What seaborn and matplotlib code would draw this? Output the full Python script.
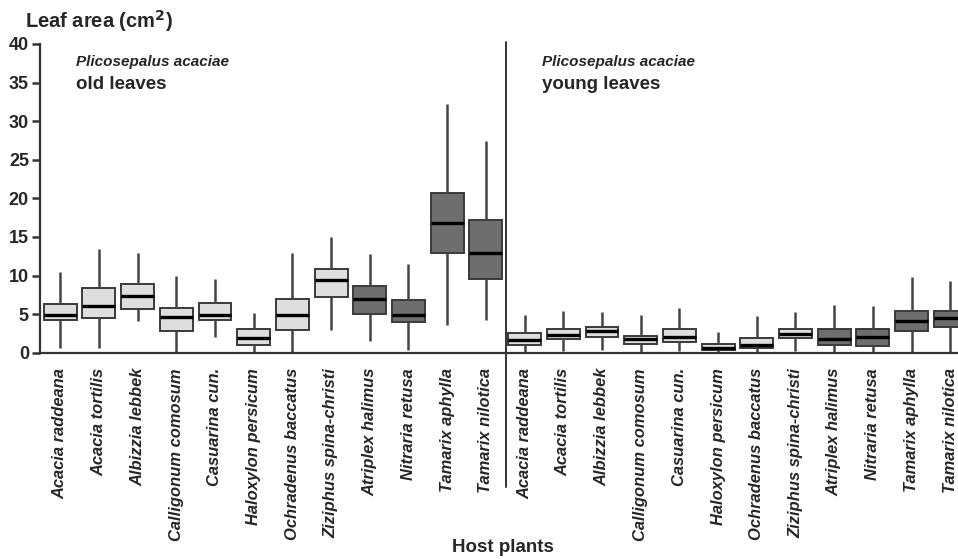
import numpy as np
import pandas as pd
import matplotlib
matplotlib.use("Agg")
import matplotlib.pyplot as plt
import seaborn as sns

# Host plant species (same order in both panels)
species = [
    "Acacia raddeana", "Acacia tortilis", "Albizzia lebbek", "Calligonum comosum",
    "Casuarina cun.", "Haloxylon persicum", "Ochradenus baccatus",
    "Ziziphus spina-christi", "Atriplex halimus", "Nitraria retusa",
    "Tamarix aphylla", "Tamarix nilotica",
]
# host group: light boxes for the first eight hosts, dark for the rest
shade = ["light"] * 8 + ["dark"] * 4

# Old leaves: five-number summaries (cm2)
old_low = [0.65, 0.65, 4.15, 0.15, 2.05, 0.0, 0.15, 2.95, 1.5, 0.35, 3.6, 4.25]
old_q1 = [4.25, 4.45, 5.65, 2.85, 4.3, 1.0, 2.95, 7.2, 5.0, 4.0, 12.95, 9.6]
old_med = [4.95, 6.05, 7.35, 4.6, 4.85, 1.9, 4.9, 9.4, 6.9, 4.9, 16.75, 12.95]
old_q3 = [6.35, 8.4, 8.85, 5.85, 6.4, 3.05, 6.9, 10.9, 8.6, 6.8, 20.7, 17.15]
old_high = [10.4, 13.4, 12.95, 10.0, 9.5, 5.2, 12.9, 15.0, 12.8, 11.5, 32.2, 27.4]

# Young leaves: five-number summaries (cm2)
young_low = [0.1, 0.2, 0.3, 0.1, 0.2, 0.0, 0.0, 0.2, 0.0, 0.0, 0.0, 0.0]
young_q1 = [1.0, 1.75, 2.05, 1.15, 1.4, 0.35, 0.65, 1.9, 1.05, 0.9, 2.85, 3.3]
young_med = [1.65, 2.3, 2.8, 1.75, 2.0, 0.65, 1.0, 2.45, 1.8, 2.0, 4.15, 4.5]
young_q3 = [2.5, 3.05, 3.35, 2.2, 3.05, 1.1, 1.95, 3.05, 3.05, 3.1, 5.45, 5.45]
young_high = [4.9, 5.45, 5.3, 4.95, 5.85, 2.7, 4.8, 5.3, 6.15, 6.1, 9.75, 9.3]

yticks = [0, 5, 10, 15, 20, 25, 30, 35, 40]

light_fill = "#dedede"
dark_fill = "#6e6e6e"
edge = "#3a3a3a"

# Long-form table: each box is given by its five summary values,
# so quartiles and min/max whiskers reproduce them exactly.
rows = []
keys = []
palette = {}
panels = [
    ("old", old_low, old_q1, old_med, old_q3, old_high),
    ("young", young_low, young_q1, young_med, young_q3, young_high),
]
for panel, lo, q1, med, q3, hi in panels:
    for i, sp in enumerate(species):
        key = f"{panel}|{sp}"
        keys.append(key)
        palette[key] = light_fill if shade[i] == "light" else dark_fill
        for v in (lo[i], q1[i], med[i], q3[i], hi[i]):
            rows.append({"key": key, "area": v})
df = pd.DataFrame(rows)

sns.set_style("white")
plt.rcParams["font.family"] = ["Liberation Sans", "DejaVu Sans"]

fig = plt.figure(figsize=(9.58, 5.59), dpi=100)
ax = fig.add_axes([0.0418, 0.369, 0.9582, 0.5524])

sns.boxplot(
    data=df, x="key", y="area", hue="key", order=keys, hue_order=keys,
    palette=palette, dodge=False, legend=False, whis=(0, 100), width=0.85,
    linecolor=edge, linewidth=1.4, showcaps=False,
    whiskerprops={"color": "#444444", "linewidth": 1.8},
    medianprops={"color": "black", "linewidth": 2.4},
    boxprops={"edgecolor": edge, "linewidth": 1.4},
    ax=ax,
)

ax.set_xlim(-0.52, 23.2)
ax.set_ylim(0, 40)
ax.set_yticks(yticks)
ax.set_yticklabels([str(t) for t in yticks], fontsize=13, fontweight="bold")
ax.set_xticks(range(len(keys)))
ax.set_xticklabels(species * 2, rotation=90, fontsize=11.9,
                   fontweight="bold", fontstyle="italic", va="top")
ax.tick_params(axis="x", length=5, width=1.6, pad=6, color="#333333")
ax.tick_params(axis="y", length=6, width=1.8, pad=2, color="#333333",
               left=True, direction="out")
for t in ax.xaxis.get_major_ticks()[:12]:
    t.tick1line.set_visible(False)
ax.set_xlabel("")
ax.set_ylabel("")

for s in ("top", "right"):
    ax.spines[s].set_visible(False)
for s in ("left", "bottom"):
    ax.spines[s].set_color("#333333")
    ax.spines[s].set_linewidth(1.6)

# divider between old and young leaves
ax.plot([11.53, 11.53], [-17.4, 40.3], color="#333333", lw=1.4, clip_on=False)

# axis titles and panel captions
fig.text(0.026, 0.951, "Leaf area (cm$^{\\mathbf{2}}$)", fontsize=14.5,
         fontweight="bold", ha="left", va="baseline")
fig.text(503 / 958, 0.012, "Host plants", fontsize=13.5, fontweight="bold",
         ha="center", va="baseline")
ax.text(0.41, 37.2, "Plicosepalus acaciae", fontsize=11, fontweight="bold",
        fontstyle="italic", ha="left", va="baseline")
ax.text(0.41, 34.2, "old leaves", fontsize=13.5, fontweight="bold",
        ha="left", va="baseline")
ax.text(12.45, 37.2, "Plicosepalus acaciae", fontsize=11, fontweight="bold",
        fontstyle="italic", ha="left", va="baseline")
ax.text(12.45, 34.2, "young leaves", fontsize=13.5, fontweight="bold",
        ha="left", va="baseline")

fig.savefig("out.png", dpi=100)
